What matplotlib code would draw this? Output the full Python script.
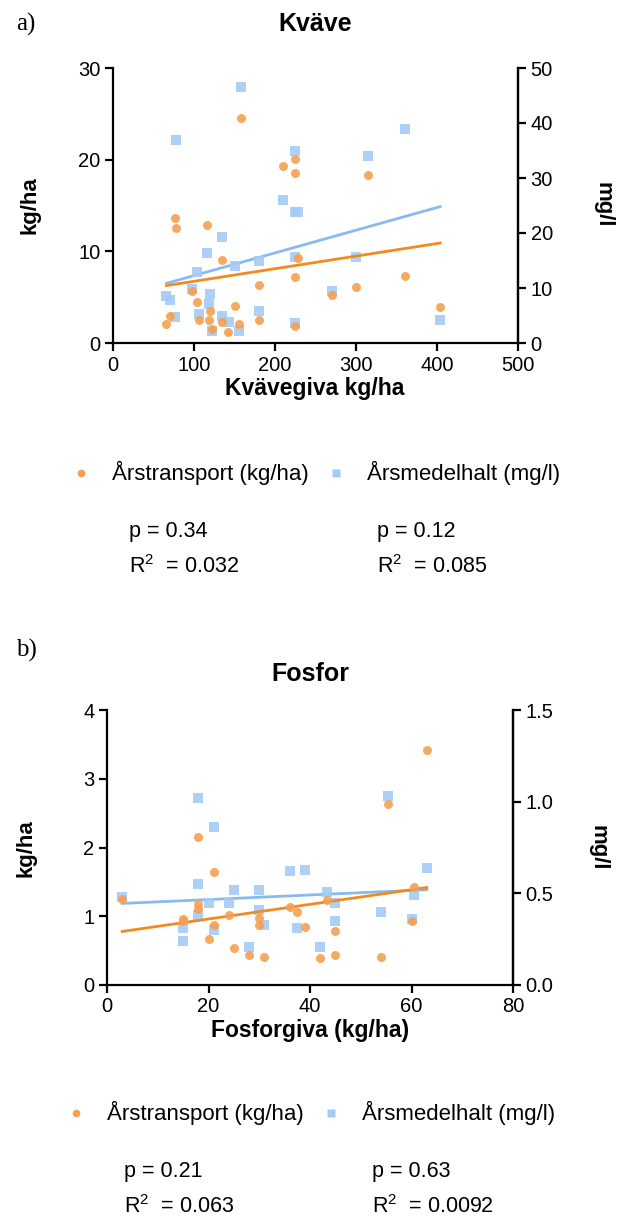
import numpy as np
import matplotlib.pyplot as plt

plt.rcParams['font.family'] = ['Liberation Sans', 'DejaVu Sans']
plt.rcParams['mathtext.fontset'] = 'custom'
plt.rcParams['mathtext.rm'] = 'Liberation Sans'
plt.rcParams['mathtext.it'] = 'Liberation Sans'

# a) Kväve - nitrogen application vs leaching
kv_x_transport = [66, 70, 76, 78, 98, 104, 106, 116, 119, 120, 122, 135, 135, 142, 150,
                  156, 158, 180, 180, 210, 225, 225, 228, 225, 225, 270, 300, 315, 360, 404]
kv_transport = [2.1, 3.0, 13.6, 12.5, 5.7, 4.5, 2.5, 12.9, 2.5, 3.5, 1.5, 9.1, 2.3, 1.2, 4.0,
                2.1, 24.5, 6.3, 2.5, 19.3, 20.1, 18.6, 9.3, 7.2, 1.9, 5.2, 6.1, 18.3, 7.3, 3.9]
kv_x_halt = [158, 78, 360, 225, 315, 210, 225, 228, 135, 116, 150, 180, 225, 300, 104,
             98, 120, 270, 66, 70, 119, 76, 106, 135, 143, 180, 122, 156, 225, 404]
kv_halt = [46.6, 37, 39, 35, 34, 26, 23.8, 23.8, 19.2, 16.4, 14, 15, 15.6, 15.6, 12.9,
           9.8, 9.0, 9.5, 8.5, 7.9, 7.1, 4.7, 5.3, 5.0, 3.8, 5.8, 2.2, 2.2, 3.6, 4.2]
kv_stats = [('p = 0.34', r'R$^{2}$  = 0.032'), ('p = 0.12', r'R$^{2}$  = 0.085')]

# b) Fosfor - phosphorus application vs leaching
p_x_transport = [3, 15, 15, 18, 18, 18, 21, 21, 20, 24, 25, 28, 30, 30, 31, 36, 37.4, 39,
                 42, 43.4, 45, 45, 54, 55.4, 60, 60.5, 63]
p_transport = [1.25, 0.96, 0.93, 2.15, 1.18, 1.11, 1.64, 0.88, 0.67, 1.02, 0.54, 0.44, 0.98,
               0.88, 0.41, 1.14, 1.06, 0.84, 0.39, 1.23, 0.78, 0.44, 0.41, 2.63, 0.93, 1.42, 3.42]
p_x_halt = [3, 15, 15, 18, 18, 18, 20, 21, 21, 24, 25, 28, 30, 30, 31, 36, 39, 37.4,
            42, 43.4, 45, 45, 54, 55.4, 60, 60.5, 63]
p_halt = [0.48, 0.31, 0.24, 1.02, 0.55, 0.38, 0.45, 0.86, 0.30, 0.45, 0.52, 0.21, 0.52,
          0.41, 0.33, 0.62, 0.63, 0.31, 0.21, 0.51, 0.45, 0.35, 0.40, 1.03, 0.36, 0.49, 0.64]
p_stats = [('p = 0.21', r'R$^{2}$  = 0.063'), ('p = 0.63', r'R$^{2}$  = 0.0092')]

ORANGE_PT = '#F6A04F'
ORANGE_LN = '#F28A22'
BLUE_PT = '#A3CBF7'
BLUE_LN = '#88BAF2'

W, H = 625, 1220


def fx(px):
    return px / W


def fy(py):
    return 1 - py / H


def style(ax):
    ax.spines['top'].set_visible(False)
    for s in ['left', 'right', 'bottom']:
        ax.spines[s].set_linewidth(1.6)
    ax.tick_params(direction='out', length=6, width=1.6, labelsize=14.5, pad=3)


def fit_line(ax, x, y, color):
    x = np.asarray(x, float)
    k, m = np.polyfit(x, y, 1)
    xx = np.array([x.min(), x.max()])
    ax.plot(xx, k * xx + m, color=color, lw=2, zorder=2)


def panel(box, xs_t, ys_t, xs_h, ys_h, xlim, xticks, ylim, yticks, rlim, rticks, rfmt):
    ax = fig.add_axes(box)
    axr = ax.twinx()
    ax.set_zorder(axr.get_zorder() + 1)
    ax.patch.set_visible(False)
    axr.scatter(xs_h, ys_h, marker='s', s=42, color=BLUE_PT, alpha=0.9, lw=0, zorder=3)
    fit_line(axr, xs_h, ys_h, BLUE_LN)
    ax.scatter(xs_t, ys_t, marker='o', s=42, color=ORANGE_PT, alpha=0.9, lw=0, zorder=3)
    fit_line(ax, xs_t, ys_t, ORANGE_LN)
    ax.set_xlim(*xlim)
    ax.set_xticks(xticks)
    ax.set_ylim(*ylim)
    ax.set_yticks(yticks)
    axr.set_ylim(*rlim)
    axr.set_yticks(rticks)
    axr.set_yticklabels([rfmt.format(t) for t in rticks])
    style(ax)
    style(axr)
    axr.spines['left'].set_visible(False)
    axr.spines['bottom'].set_visible(False)
    return ax, axr


def legend_block(y_leg, y_p, y_r, dx, stats):
    ax_leg = fig.add_axes([0, 0, 1, 1], zorder=-1)
    ax_leg.set_xlim(0, W)
    ax_leg.set_ylim(H, 0)
    ax_leg.axis('off')
    ax_leg.plot([81 + dx], [y_leg], 'o', ms=5.5, color=ORANGE_PT, mec='none')
    ax_leg.plot([336 + dx], [y_leg], 's', ms=5.5, color=BLUE_PT, mec='none')
    ax_leg.text(112 + dx, y_leg, 'Årstransport (kg/ha)', fontsize=16, va='center')
    ax_leg.text(367 + dx, y_leg, 'Årsmedelhalt (mg/l)', fontsize=16, va='center')
    for xp, (ptxt, rtxt) in zip([129 + dx, 377 + dx], stats):
        ax_leg.text(xp, y_p, ptxt, fontsize=15.5, va='center')
        ax_leg.text(xp, y_r, rtxt, fontsize=15.5, va='center')


fig = plt.figure(figsize=(W / 100, H / 100), dpi=100)

# panel a
axa, axar = panel([fx(113), fy(343), fx(518) - fx(113), (343 - 68) / H],
                  kv_x_transport, kv_transport, kv_x_halt, kv_halt,
                  (0, 500), [0, 100, 200, 300, 400, 500], (0, 30), [0, 10, 20, 30],
                  (0, 50), [0, 10, 20, 30, 40, 50], '{:.0f}')
fig.text(fx(16), fy(24), 'a)', fontsize=18, family='Liberation Serif', va='center')
fig.text(fx(315), fy(24), 'Kväve', fontsize=18, weight='bold', ha='center', va='center')
fig.text(fx(30), fy(205), 'kg/ha', fontsize=16, weight='bold', rotation=90, ha='center', va='center')
fig.text(fx(603), fy(205), 'mg/l', fontsize=16, weight='bold', rotation=270, ha='center', va='center')
fig.text(fx(315), fy(389), 'Kvävegiva kg/ha', fontsize=16.5, weight='bold', ha='center', va='center')
legend_block(473, 532, 567, 0, kv_stats)

# panel b
axb, axbr = panel([fx(107), fy(985), fx(513) - fx(107), (985 - 710) / H],
                  p_x_transport, p_transport, p_x_halt, p_halt,
                  (0, 80), [0, 20, 40, 60, 80], (0, 4), [0, 1, 2, 3, 4],
                  (0, 1.5), [0.0, 0.5, 1.0, 1.5], '{:.1f}')
fig.text(fx(16), fy(650), 'b)', fontsize=18, family='Liberation Serif', va='center')
fig.text(fx(310), fy(674), 'Fosfor', fontsize=18, weight='bold', ha='center', va='center')
fig.text(fx(26), fy(848), 'kg/ha', fontsize=16, weight='bold', rotation=90, ha='center', va='center')
fig.text(fx(598), fy(848), 'mg/l', fontsize=16, weight='bold', rotation=270, ha='center', va='center')
fig.text(fx(310), fy(1031), 'Fosforgiva (kg/ha)', fontsize=16.5, weight='bold', ha='center', va='center')
legend_block(1113, 1172, 1207, -5, p_stats)

fig.savefig('out.png', dpi=100)
